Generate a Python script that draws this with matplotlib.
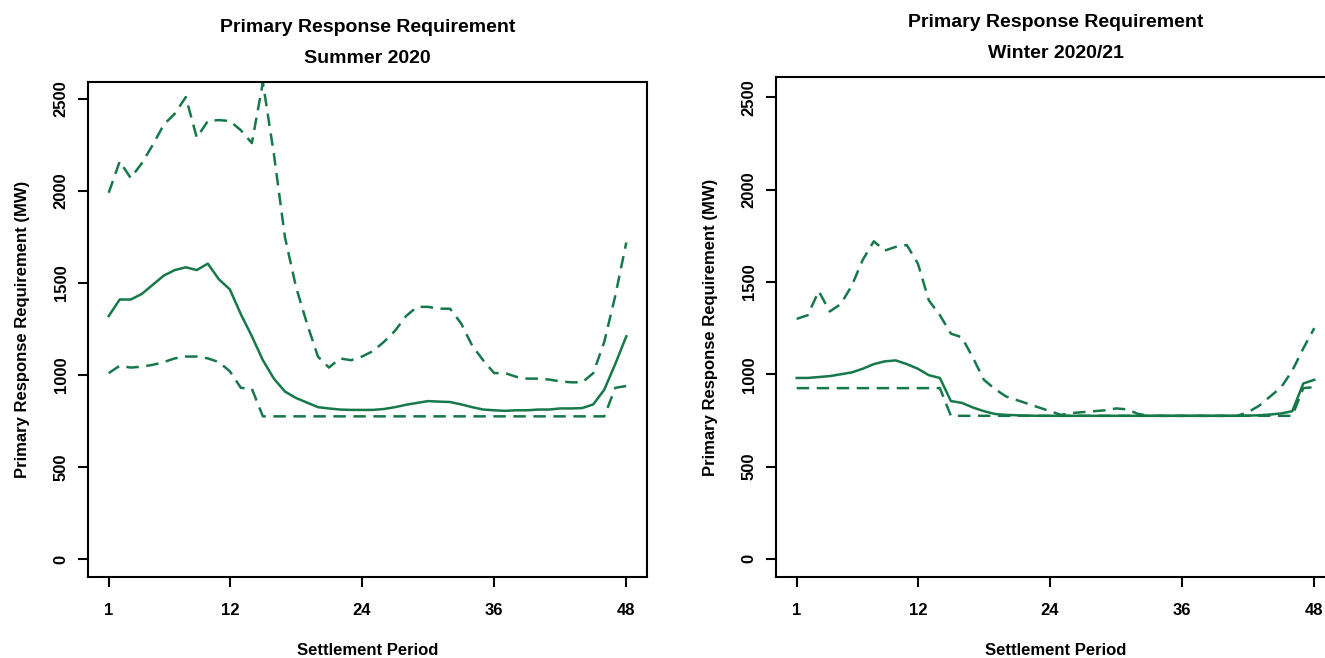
import matplotlib.pyplot as plt
import numpy as np

plt.rcParams['font.family'] = 'Liberation Sans'

periods = np.arange(1, 49)

# Summer 2020 (MW)
summer_mid = [1320, 1410, 1410, 1440, 1490, 1540, 1570, 1585, 1570, 1605, 1520, 1465,
              1330, 1210, 1080, 980, 910, 875, 850, 825, 818, 812, 810, 810,
              810, 815, 825, 838, 848, 858, 855, 853, 840, 825, 812, 808,
              805, 808, 808, 812, 812, 818, 818, 820, 840, 920, 1060, 1210]
summer_high = [1990, 2160, 2070, 2150, 2250, 2360, 2420, 2510, 2290, 2380, 2385, 2380,
               2330, 2260, 2590, 2200, 1750, 1480, 1280, 1100, 1040, 1090, 1080, 1100,
               1130, 1180, 1240, 1320, 1370, 1370, 1360, 1360, 1280, 1160, 1080, 1010,
               1010, 990, 980, 980, 975, 965, 960, 960, 1010, 1180, 1430, 1720]
summer_low = [1010, 1050, 1040, 1045, 1055, 1070, 1090, 1100, 1100, 1090, 1070, 1020,
              930, 925, 775, 775, 775, 775, 775, 775, 775, 775, 775, 775,
              775, 775, 775, 775, 775, 775, 775, 775, 775, 775, 775, 775,
              775, 775, 775, 775, 775, 775, 775, 775, 775, 775, 930, 940]

# Winter 2020/21 (MW)
winter_mid = [980, 980, 985, 990, 1000, 1010, 1030, 1055, 1070, 1075, 1055, 1030,
              995, 980, 855, 845, 820, 800, 785, 780, 778, 776, 775, 775,
              775, 775, 775, 775, 775, 775, 775, 775, 775, 775, 775, 775,
              775, 775, 775, 775, 775, 776, 778, 782, 788, 800, 950, 970]
winter_high = [1300, 1320, 1450, 1340, 1380, 1480, 1620, 1720, 1670, 1690, 1700, 1600,
               1400, 1320, 1220, 1200, 1090, 970, 920, 880, 860, 840, 820, 800,
               780, 790, 795, 800, 805, 815, 810, 785, 775, 775, 775, 775,
               775, 775, 775, 775, 775, 795, 830, 880, 930, 1020, 1140, 1250]
winter_low = [925] * 14 + [775] * 32 + [925, 930]

green = '#17784a'

fig = plt.figure(figsize=(13.25, 6.58), dpi=100)
W, H = 1325, 658


def panel(left, top, bottom, width, ytop, mid, high, low, title, tpad):
    ax = fig.add_axes([left / W, (H - bottom) / H, width / W, (bottom - top) / H])
    ax.plot(periods, mid, color=green, lw=1.8)
    ax.plot(periods, high, color=green, lw=1.8, ls=(0, (5, 3)))
    ax.plot(periods, low, color=green, lw=1.8, ls=(0, (5, 3)))
    ax.set_xlim(-0.88, 49.88)
    ax.set_ylim(-98, ytop)
    ax.set_xticks([1, 12, 24, 36, 48])
    ax.set_yticks([0, 500, 1000, 1500, 2000, 2500])
    ax.tick_params(axis='x', length=7, width=1.5, labelsize=12, pad=12)
    ax.tick_params(axis='y', length=7, width=1.5, labelsize=12, pad=7, labelrotation=90)
    for lab in ax.get_xticklabels() + ax.get_yticklabels():
        lab.set_fontweight('bold')
    for lab in ax.get_yticklabels():
        lab.set_verticalalignment('center')
    for s in ax.spines.values():
        s.set_linewidth(1.5)
    ax.set_title(title, fontsize=14, fontweight='bold', linespacing=2.05, pad=tpad)
    ax.set_xlabel('Settlement Period', fontsize=12, fontweight='bold', labelpad=18)
    ax.set_ylabel('Primary Response Requirement (MW)', fontsize=12, fontweight='bold', labelpad=17)
    return ax


panel(88, 82, 577, 559, 2592, summer_mid, summer_high, summer_low,
      'Primary Response Requirement\nSummer 2020', 14)
panel(776, 77, 577, 559, 2610, winter_mid, winter_high, winter_low,
      'Primary Response Requirement\nWinter 2020/21', 14)

fig.savefig('out.png', dpi=100)
